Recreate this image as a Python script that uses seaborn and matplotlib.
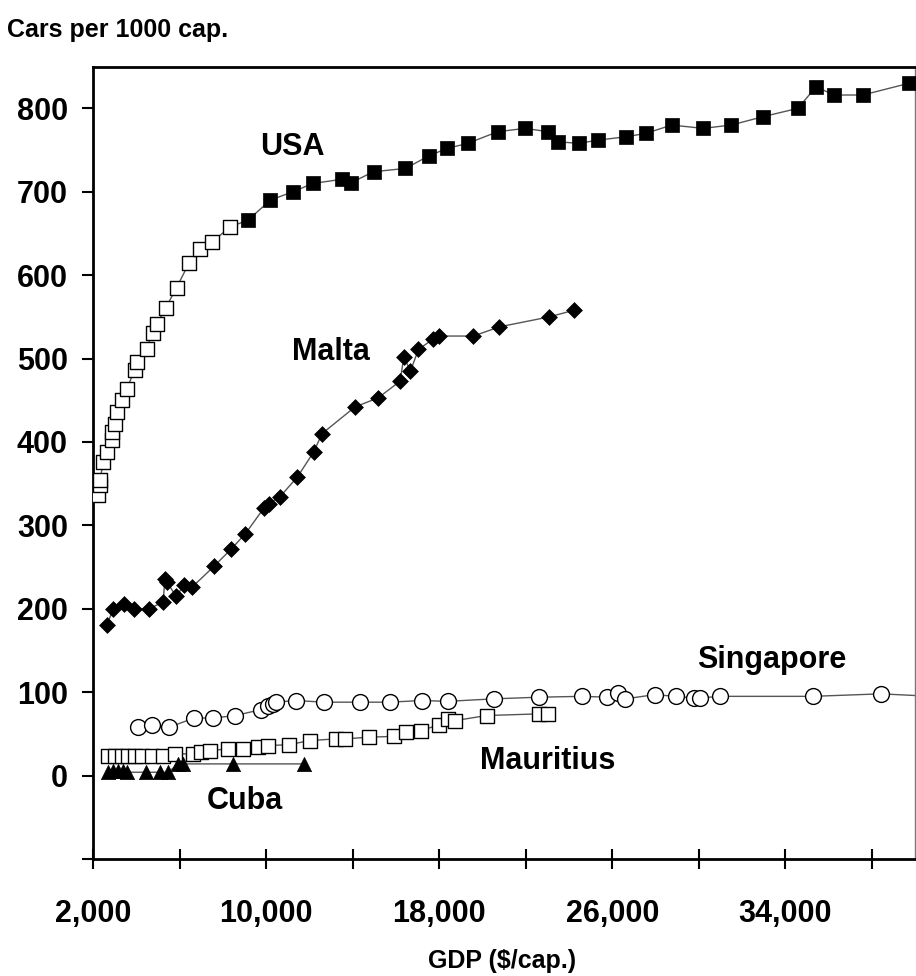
import matplotlib
matplotlib.use("Agg")
import matplotlib.pyplot as plt
import seaborn as sns
import numpy as np

# ---- data ----
usa_open_x = [2245, 2323, 2323, 2477, 2632, 2863, 2863, 3015, 3121, 3324, 3555, 3938,
              4044, 4478, 4755, 4968, 5369, 5862, 6430, 6938, 7506, 8355]
usa_open_y = [336, 348, 354, 376, 388, 402, 412, 422, 436, 450, 464, 486,
              496, 512, 531, 542, 561, 585, 614, 631, 640, 658]
usa_fill_x = [9167, 10200, 11244, 12167, 13523, 13938, 14968, 16445, 17522, 18368, 19320,
              20705, 21969, 23044, 23474, 24443, 25366, 26658, 27553, 28752, 30197, 31504,
              32967, 34582, 35427, 36244, 37582, 39705]
usa_fill_y = [666, 690, 700, 710, 715, 711, 724, 728, 743, 752, 758,
              772, 776, 772, 760, 758, 762, 766, 770, 780, 776, 780,
              790, 800, 826, 816, 816, 830]

malta_x = [2632, 2938, 3446, 3892, 4584, 5246, 5323, 5430, 5830, 6214, 6583, 7598, 8401,
           9047, 9906, 10123, 10631, 11450, 12200, 12590, 14110, 15190, 16200, 16367, 16676,
           17045, 17705, 18014, 19583, 20783, 23091, 24245]
malta_y = [180, 200, 206, 200, 200, 208, 236, 232, 215, 228, 226, 251, 272,
           290, 321, 326, 334, 358, 388, 410, 442, 453, 473, 502, 485,
           511, 523, 527, 527, 538, 550, 558]

sing_x = [4091, 4709, 5521, 6675, 7552, 8586, 9753, 10091, 10300, 10446, 11368, 12675,
          14354, 15707, 17198, 18398, 20521, 22629, 24600, 25753, 26289, 26598, 27960,
          28950, 29783, 30044, 30967, 35274, 38426, 40000]
sing_y = [58, 61, 58, 69, 69, 72, 79, 84, 86, 88, 90, 88,
          88, 88, 90, 89, 92, 94, 95, 94, 99, 92, 97,
          95, 93, 93, 95, 95, 98, 96]
sing_marked = [True] * 29 + [False]

maur_x = [2708, 3015, 3323, 3630, 3938, 4246, 4708, 5246, 5784, 6630, 7016, 7400, 8244,
          8937, 9629, 10090, 11060, 12014, 13246, 13630, 14753, 15900, 16476, 17168,
          18014, 18398, 18752, 20198, 22629, 23014]
maur_y = [24, 24, 24, 24, 24, 24, 24, 24, 26, 26, 28, 30, 32,
          32, 34, 36, 37, 42, 44, 44, 46, 47, 52, 54,
          61, 68, 66, 72, 74, 74]

cuba_x = [2708, 2938, 3169, 3400, 3555, 4446, 5092, 5477, 5938, 6169, 8477, 11738]
cuba_y = [4, 5, 5, 5, 4, 4, 4, 4, 14, 14, 14, 14]

labels = ["USA", "Malta", "Singapore", "Mauritius", "Cuba"]
label_x = [11200, 12980, 33380, 23000, 9000]
label_y = [754, 508, 138, 17, -30]

x_ticks = [2000, 10000, 18000, 26000, 34000]
x_minor = [6000, 14000, 22000, 30000, 38000]
y_ticks = [-100, 0, 100, 200, 300, 400, 500, 600, 700, 800]

# ---- style ----
sns.set_style("ticks")
plt.rcParams["font.family"] = ["Liberation Sans", "DejaVu Sans"]
plt.rcParams["font.weight"] = "bold"
plt.rcParams["text.color"] = "black"
plt.rcParams["axes.labelcolor"] = "black"
plt.rcParams["xtick.color"] = "black"
plt.rcParams["ytick.color"] = "black"

fig = plt.figure(figsize=(9.16, 9.76), dpi=100)
ax = fig.add_axes([0.1015, 0.1199, 0.8975, 0.8118])

line_kw = dict(estimator=None, sort=True, color="#555555", linewidth=1.0, ax=ax,
               legend=False, zorder=2)

# lines
sns.lineplot(x=usa_open_x + usa_fill_x, y=usa_open_y + usa_fill_y, **line_kw)
sns.lineplot(x=malta_x, y=malta_y, **line_kw)
sns.lineplot(x=sing_x, y=sing_y, **line_kw)
sns.lineplot(x=maur_x, y=maur_y, **line_kw)
sns.lineplot(x=cuba_x, y=cuba_y, **line_kw)

# markers
sns.scatterplot(x=usa_open_x, y=usa_open_y, marker="s", s=90, facecolor="white",
                edgecolor="black", linewidth=1.0, ax=ax, zorder=3)
sns.scatterplot(x=usa_fill_x, y=usa_fill_y, marker="s", s=100, color="black",
                edgecolor="black", linewidth=0.5, ax=ax, zorder=3)
sns.scatterplot(x=malta_x, y=malta_y, marker="D", s=65, color="black",
                edgecolor="black", linewidth=0.5, ax=ax, zorder=3)
sx = [x for x, m in zip(sing_x, sing_marked) if m]
sy = [y for y, m in zip(sing_y, sing_marked) if m]
sns.scatterplot(x=sx, y=sy, marker="o", s=130, facecolor="white",
                edgecolor="black", linewidth=1.0, ax=ax, zorder=3)
sns.scatterplot(x=maur_x, y=maur_y, marker="s", s=90, facecolor="white",
                edgecolor="black", linewidth=1.0, ax=ax, zorder=3)
sns.scatterplot(x=cuba_x, y=cuba_y, marker="^", s=105, color="black",
                edgecolor="black", linewidth=0.5, ax=ax, zorder=3)

for t, x, y in zip(labels, label_x, label_y):
    ax.text(x, y, t, ha="center", va="center", fontsize=22, fontweight="bold",
            color="black")

ax.set_xlim(2000, 40000)
ax.set_ylim(-100, 850)
ax.set_xticks(x_ticks)
ax.set_xticks(x_minor, minor=True)
ax.set_xticklabels([f"{v:,}" for v in x_ticks], fontsize=22, fontweight="bold")
ax.set_yticks(y_ticks)
ax.set_yticklabels(["" if v < 0 else str(v) for v in y_ticks], fontsize=22,
                   fontweight="bold")
ax.tick_params(axis="x", which="both", direction="inout", length=15, width=1.5,
               pad=21, colors="black")
ax.tick_params(axis="y", which="major", direction="out", length=8, width=1.5,
               pad=10, colors="black")

for side in ["left", "bottom", "top"]:
    ax.spines[side].set_linewidth(2.0)
    ax.spines[side].set_color("black")
ax.spines["right"].set_linewidth(1.0)
ax.spines["right"].set_color("#777777")

ax.set_xlabel("")
ax.set_ylabel("")
fig.text(0.008, 0.969, "Cars per 1000 cap.", fontsize=18, fontweight="bold",
         ha="left", va="center", color="black")
fig.text(0.548, 0.0155, "GDP ($/cap.)", fontsize=18, fontweight="bold",
         ha="center", va="center", color="black")

fig.savefig("out.png", dpi=100)
